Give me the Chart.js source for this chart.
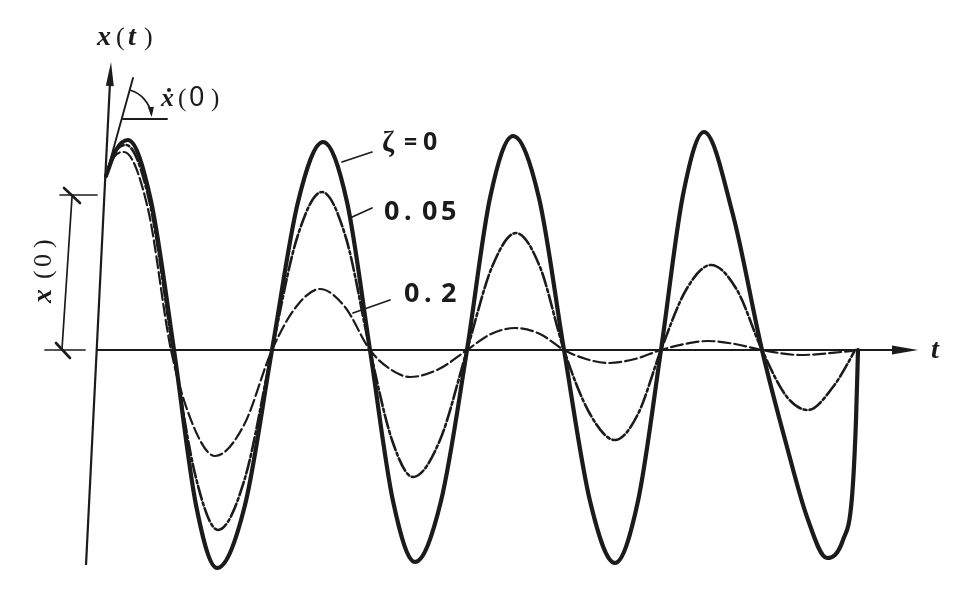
<!DOCTYPE html>
<html><head><meta charset="utf-8">
<script src="https://cdn.jsdelivr.net/npm/chart.js@4"></script>
<style>html,body{margin:0;padding:0;background:#fff;overflow:hidden}canvas{display:block}</style>
</head><body>
<canvas id="c" width="960" height="602"></canvas>
<script>
// ---- data (t in arbitrary time units, x(t) in arbitrary displacement units) ----
const seriesLabels = ['ζ=0', '0. 05', '0. 2'];

const tZeta0 = [0.06,0.16,0.28,0.51,0.74,0.96,1.17,1.45,1.72,1.98,2.23,2.47,2.70,2.93,3.15,3.41,3.67,3.90,4.13,4.39,4.64,4.90,5.15,5.38,5.61,5.83,6.04,6.33,6.62,6.87,7.07,7.27,7.43,7.52,7.56,7.58];
const xZeta0 = [1.74,2.00,2.10,1.49,0,-1.55,-2.18,-1.55,0,1.48,2.08,1.48,0,-1.51,-2.12,-1.51,0,1.52,2.14,1.52,0,-1.51,-2.13,-1.51,0,1.55,2.18,1.35,0,-0.97,-1.67,-2.08,-1.90,-1.47,-0.70,0];

const tZeta005 = [0.06,0.15,0.26,0.50,0.73,0.96,1.18,1.45,1.72,1.97,2.22,2.46,2.70,2.92,3.13,3.40,3.67,3.92,4.16,4.40,4.64,4.90,5.15,5.38,5.61,5.86,6.11,6.37,6.62,6.87,7.08,7.33,7.48,7.55];
const xZeta005 = [1.74,1.98,2.05,1.46,0,-1.28,-1.80,-1.28,0,1.12,1.58,1.12,0,-0.90,-1.27,-0.90,0,0.83,1.17,0.83,0,-0.64,-0.90,-0.64,0,0.60,0.85,0.60,0,-0.47,-0.60,-0.37,-0.13,0];

const tZeta02 = [0.06,0.14,0.24,0.48,0.71,0.93,1.15,1.44,1.72,1.96,2.20,2.45,2.70,2.90,3.10,3.39,3.67,3.91,4.15,4.40,4.64,4.86,5.08,5.35,5.61,5.85,6.08,6.35,6.62,7.00,7.52];
const xZeta02 = [1.74,1.93,1.98,1.41,0,-0.75,-1.06,-0.75,0,0.43,0.61,0.43,0,-0.19,-0.27,-0.19,0,0.16,0.22,0.16,0,-0.09,-0.13,-0.09,0,0.06,0.09,0.06,0,-0.05,-0.01];

// axes extents (data units)
const tAxis = [-0.03, 8.18];
const xAxisLine = [[-0.14,-2.15],[0.11,2.88]];
const x0Value = 1.55;

const zip = (ts, xs) => ts.map((t, i) => ({x: t, y: xs[i]}));
const ink = '#1b1b1b';
const SERIF = '"Liberation Serif", "DejaVu Serif", "Times New Roman", serif';
const SANS = '"Noto Sans", "DejaVu Sans", sans-serif';

function seg(ctx, a, b) { ctx.beginPath(); ctx.moveTo(a[0], a[1]); ctx.lineTo(b[0], b[1]); ctx.stroke(); }
function head(ctx, tip, dir, len, hw) {
  const n = Math.hypot(dir[0], dir[1]); const ux = dir[0]/n, uy = dir[1]/n;
  const bx = tip[0]-ux*len, by = tip[1]-uy*len;
  ctx.beginPath(); ctx.moveTo(tip[0], tip[1]);
  ctx.lineTo(bx - uy*hw, by + ux*hw); ctx.lineTo(bx + uy*hw, by - ux*hw); ctx.closePath(); ctx.fill();
}
function txt(ctx, s, x, y, font) { ctx.font = font; ctx.fillText(s, x, y); }

const annot = {
  id: 'annot',
  beforeDatasetsDraw(chart) {
    const {ctx, scales: {x: sx, y: sy}} = chart;
    const P = (t, v) => [sx.getPixelForValue(t), sy.getPixelForValue(v)];
    ctx.save();
    ctx.strokeStyle = ink; ctx.fillStyle = ink; ctx.lineCap = 'butt';
    ctx.lineWidth = 2.2;
    const a0 = P(tAxis[0], 0), a1 = P(tAxis[1], 0);
    seg(ctx, a0, [a1[0]-10, a1[1]]);
    head(ctx, a1, [1, 0], 26, 4.5);
    const b0 = P(xAxisLine[0][0], xAxisLine[0][1]), b1 = P(xAxisLine[1][0], xAxisLine[1][1]);
    const d = [b1[0]-b0[0], b1[1]-b0[1]];
    const dn = Math.hypot(d[0], d[1]);
    seg(ctx, b0, [b1[0]-d[0]/dn*12, b1[1]-d[1]/dn*12]);
    head(ctx, b1, d, 24, 4);
    ctx.restore();
  },
  afterDatasetsDraw(chart) {
    const {ctx, scales: {x: sx, y: sy}} = chart;
    const yTop = sy.getPixelForValue(x0Value), yBase = sy.getPixelForValue(0);
    ctx.save();
    ctx.strokeStyle = ink; ctx.fillStyle = ink; ctx.lineCap = 'round';
    // x(0) dimension
    ctx.lineWidth = 1.7;
    seg(ctx, [60, yTop], [97, yTop]);
    seg(ctx, [45, yBase], [85, yBase]);
    seg(ctx, [72, yTop+2], [62, yBase-1]);
    ctx.lineWidth = 2.6;
    seg(ctx, [64, yTop-7], [80, yTop+8]);
    seg(ctx, [56, yBase-7], [70, yBase+8]);
    // tangent for x'(0)
    ctx.lineWidth = 1.9;
    seg(ctx, [107, 172], [133, 78]);
    seg(ctx, [123, 119], [167, 119]);
    ctx.lineWidth = 1.7;
    const cx = 121.7, cy = 119, r = 30;
    const s = -73*Math.PI/180, e = -10*Math.PI/180;
    ctx.beginPath(); ctx.arc(cx, cy, r, s, e); ctx.stroke();
    const ea = -4*Math.PI/180;
    head(ctx, [cx + r*Math.cos(ea), cy + r*Math.sin(ea)], [-Math.sin(ea), Math.cos(ea)], 10, 3);
    // leader lines
    ctx.lineWidth = 1.7;
    seg(ctx, [342, 162], [372, 152]);
    seg(ctx, [350, 218], [372, 208]);
    seg(ctx, [353, 313], [390, 300]);
    // texts
    ctx.textAlign = 'left'; ctx.textBaseline = 'alphabetic';
    const ital = 'italic bold 28px ' + SERIF;
    const rom = '26px ' + SERIF;
    // x(t)
    txt(ctx, 'x', 97, 45, ital);
    txt(ctx, '(', 116, 45, rom);
    txt(ctx, 't', 128, 45, ital);
    txt(ctx, ')', 144, 45, rom);
    // x'(0)
    txt(ctx, 'x', 161, 106, 'italic bold 26px ' + SERIF);
    ctx.beginPath(); ctx.arc(169, 90, 2, 0, Math.PI*2); ctx.fill();
    txt(ctx, '(', 178, 106, '25px ' + SERIF);
    txt(ctx, '0', 189, 106, '27px ' + SANS);
    txt(ctx, ')', 211, 106, '25px ' + SERIF);
    // t
    txt(ctx, 't', 931, 358, 'italic bold 28px ' + SERIF);
    // zeta labels
    txt(ctx, 'ζ', 382, 151, 'bold 29px ' + SERIF);
    txt(ctx, '=', 404, 150, 'bold 23px ' + SANS);
    txt(ctx, '0', 423, 150, 'bold 25px ' + SANS);
    const dig = 'bold 27px ' + SANS;
    txt(ctx, '0', 384, 220, dig);
    txt(ctx, '.', 404, 220, dig);
    txt(ctx, '0', 422, 220, dig);
    txt(ctx, '5', 441, 220, dig);
    txt(ctx, '0', 404, 302, dig);
    txt(ctx, '.', 424, 302, dig);
    txt(ctx, '2', 441, 302, dig);
    // x(0) rotated
    ctx.save();
    ctx.translate(51, 303); ctx.rotate(-Math.PI/2);
    txt(ctx, 'x', 0, 0, ital);
    txt(ctx, '(', 24, 0, rom);
    txt(ctx, '0', 36, 0, '26px ' + SERIF);
    txt(ctx, ')', 55, 0, rom);
    ctx.restore();
    ctx.restore();
  }
};

new Chart(document.getElementById('c'), {
  type: 'line',
  data: {
    datasets: [
      {label: seriesLabels[0], data: zip(tZeta0, xZeta0), borderColor: ink, borderWidth: 4.2, borderDash: []},
      {label: seriesLabels[1], data: zip(tZeta005, xZeta005), borderColor: ink, borderWidth: 2.6, borderDash: [14, 3, 3, 3]},
      {label: seriesLabels[2], data: zip(tZeta02, xZeta02), borderColor: ink, borderWidth: 2.2, borderDash: [12, 4]}
    ]
  },
  options: {
    responsive: false,
    animation: false,
    devicePixelRatio: 1,
    layout: {padding: 0},
    elements: {point: {radius: 0}, line: {cubicInterpolationMode: 'monotone', fill: false, borderCapStyle: 'round'}},
    plugins: {legend: {display: false}, tooltip: {enabled: false}},
    scales: {
      x: {type: 'linear', min: -1.0, max: 8.6, display: false},
      y: {type: 'linear', min: -2.52, max: 3.50, display: false}
    }
  },
  plugins: [annot]
});
</script>
</body></html>
